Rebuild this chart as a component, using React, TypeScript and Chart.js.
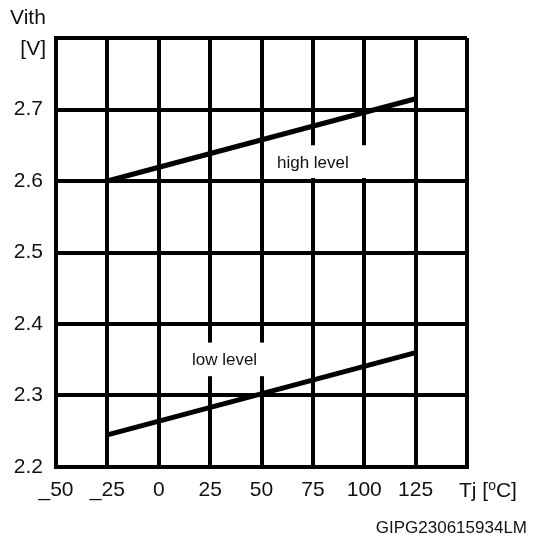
import React, { useEffect, useRef } from "react";
import { Chart, registerables } from "chart.js";

Chart.register(...registerables);

const temps = [-25, 125];
const highLevel = [2.6, 2.715];
const lowLevel = [2.245, 2.36];
const xTickValues = [-50, -25, 0, 25, 50, 75, 100, 125, 150];
const xTickLabels = ["_50", "_25", "0", "25", "50", "75", "100", "125", ""];
const yTickLabels = ["2.2", "2.3", "2.4", "2.5", "2.6", "2.7", ""];
const yTitleTop = "Vith";
const yUnit = "[V]";
const xTitle = "Tj [";
const xTitleSup = "o";
const xTitleEnd = "C]";
const footer = "GIPG230615934LM";
const highLabel = "high level";
const lowLabel = "low level";

const FONT = "'Liberation Sans', Arial, sans-serif";

const extras = {
  id: "extras",
  afterDatasetsDraw(chart: any) {
    const { ctx, scales } = chart;
    const x = scales.x;
    const y = scales.y;
    ctx.save();
    // white label boxes
    ctx.fillStyle = "#fff";
    const hl = x.getPixelForValue(50) + 3;
    const hr = x.getPixelForValue(125) - 3;
    const ht = y.getPixelForValue(2.65);
    const hb = y.getPixelForValue(2.6) - 3;
    ctx.fillRect(hl, ht, hr - hl, hb - ht);
    const ll = x.getPixelForValue(0) + 3;
    const lr = x.getPixelForValue(75) - 3;
    const lt = y.getPixelForValue(2.374);
    const lb = y.getPixelForValue(2.327);
    ctx.fillRect(ll, lt, lr - ll, lb - lt);

    ctx.fillStyle = "#111";
    ctx.font = `17px ${FONT}`;
    ctx.textAlign = "center";
    ctx.textBaseline = "middle";
    ctx.fillText(highLabel, x.getPixelForValue(75), y.getPixelForValue(2.625));
    ctx.fillText(lowLabel, x.getPixelForValue(32), y.getPixelForValue(2.349));

    // axis titles
    ctx.font = `21px ${FONT}`;
    ctx.textAlign = "left";
    ctx.fillText(yTitleTop, 10, 18);
    ctx.textAlign = "right";
    ctx.fillText(yUnit, 46, 49);

    // x title
    ctx.textAlign = "left";
    let tx = 459;
    const ty = 491;
    ctx.fillText(xTitle, tx, ty);
    tx += ctx.measureText(xTitle).width;
    ctx.font = `14px ${FONT}`;
    ctx.fillText(xTitleSup, tx, ty - 5);
    tx += ctx.measureText(xTitleSup).width;
    ctx.font = `21px ${FONT}`;
    ctx.fillText(xTitleEnd, tx, ty);

    // footer
    ctx.font = `17px ${FONT}`;
    ctx.textAlign = "right";
    ctx.fillText(footer, 527, 528);
    ctx.restore();
  },
};

export default function App() {
  const ref = useRef<HTMLCanvasElement>(null);
  useEffect(() => {
    if (!ref.current) return;
    const chart = new Chart(ref.current, {
      type: "line",
      data: {
        datasets: [
          {
            label: highLabel,
            data: temps.map((t, i) => ({ x: t, y: highLevel[i] })),
            borderColor: "#000",
            borderWidth: 5,
            pointRadius: 0,
          },
          {
            label: lowLabel,
            data: temps.map((t, i) => ({ x: t, y: lowLevel[i] })),
            borderColor: "#000",
            borderWidth: 5,
            pointRadius: 0,
          },
        ],
      },
      options: {
        animation: false,
        responsive: false,
        maintainAspectRatio: false,
        layout: { padding: { top: 38, right: 77, left: 0, bottom: 0 } },
        plugins: { legend: { display: false }, tooltip: { enabled: false } },
        scales: {
          x: {
            type: "linear",
            min: -50,
            max: 150,
            afterFit: (s: any) => {
              s.height = 79;
            },
            afterBuildTicks: (s: any) => {
              s.ticks = xTickValues.map((v) => ({ value: v }));
            },
            ticks: {
              autoSkip: false,
              maxRotation: 0,
              padding: 11,
              color: "#111",
              font: { family: FONT, size: 21 },
              callback: (v: any) => {
                const i = xTickValues.indexOf(Number(v));
                return i >= 0 ? xTickLabels[i] : "";
              },
            },
            grid: { color: "#000", lineWidth: 4, drawTicks: false },
            border: { color: "#000", width: 4 },
          },
          y: {
            type: "linear",
            min: 2.2,
            max: 2.8,
            afterFit: (s: any) => {
              s.width = 56;
            },
            ticks: {
              stepSize: 0.1,
              padding: 13,
              color: "#111",
              font: { family: FONT, size: 21 },
              callback: (v: any) => {
                const i = Math.round((Number(v) - 2.2) * 10);
                return yTickLabels[i] ?? "";
              },
            },
            grid: { color: "#000", lineWidth: 4, drawTicks: false },
            border: { color: "#000", width: 4 },
          },
        },
      },
      plugins: [extras],
    });
    return () => chart.destroy();
  }, []);
  return (
    <div style={{ position: "absolute", left: 0, top: 0, width: 544, height: 546, background: "#fff" }}>
      <canvas ref={ref} width={544} height={546} style={{ display: "block" }} />
    </div>
  );
}
